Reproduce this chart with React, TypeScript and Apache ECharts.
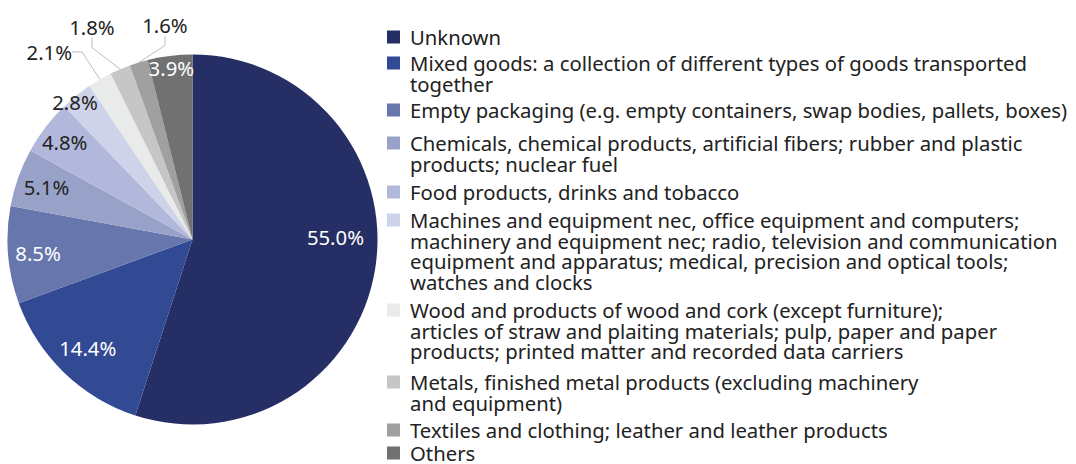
import React, { useEffect, useRef } from "react";
import * as echarts from "echarts";

const categories = [
  "Unknown",
  "Mixed goods: a collection of different types of goods transported together",
  "Empty packaging (e.g. empty containers, swap bodies, pallets, boxes)",
  "Chemicals, chemical products, artificial fibers; rubber and plastic products; nuclear fuel",
  "Food products, drinks and tobacco",
  "Machines and equipment nec, office equipment and computers; machinery and equipment nec; radio, television and communication equipment and apparatus; medical, precision and optical tools; watches and clocks",
  "Wood and products of wood and cork (except furniture); articles of straw and plaiting materials; pulp, paper and paper products; printed matter and recorded data carriers",
  "Metals, finished metal products (excluding machinery and equipment)",
  "Textiles and clothing; leather and leather products",
  "Others",
];

// legend text as wrapped in the reference
const legendLines: string[][] = [
  ["Unknown"],
  ["Mixed goods: a collection of different types of goods transported", "together"],
  ["Empty packaging (e.g. empty containers, swap bodies, pallets, boxes)"],
  ["Chemicals, chemical products, artificial fibers; rubber and plastic", "products; nuclear fuel"],
  ["Food products, drinks and tobacco"],
  [
    "Machines and equipment nec, office equipment and computers;",
    "machinery and equipment nec; radio, television and communication",
    "equipment and apparatus; medical, precision and optical tools;",
    "watches and clocks",
  ],
  [
    "Wood and products of wood and cork (except furniture);",
    "articles of straw and plaiting materials; pulp, paper and paper",
    "products; printed matter and recorded data carriers",
  ],
  ["Metals, finished metal products (excluding machinery", "and equipment)"],
  ["Textiles and clothing; leather and leather products"],
  ["Others"],
];

const shares = [55.0, 14.4, 8.5, 5.1, 4.8, 2.8, 2.1, 1.8, 1.6, 3.9];

// ---- styling / layout (not data) ----
const colors = [
  "#262f65",
  "#324a93",
  "#6776ad",
  "#98a2c8",
  "#b2b8db",
  "#cfd3e9",
  "#e9ebea",
  "#c6c6c6",
  "#a0a0a0",
  "#717171",
];
const labelColors = ["#fff", "#fff", "#fff", "#222", "#222", "#222", "#222", "#222", "#222", "#fff"];
const labelOutside = [false, false, false, false, false, false, true, true, true, false];
// label distance from centre (px) and angular shift (deg) per slice
const labelDist = [143, 151, 155, 155, 161, 181, 236, 235, 216, 173];
const labelShift = [-10.2, 0, 0, 0, 0, -1.6, -7.3, -2.3, 9.6, 0];
const legendFirstLineY = [37, 63, 110, 143, 192, 220, 310, 382, 430, 453];

const CX = 192.5;
const CY = 239.5;
const R = 185;
const LH = 20.5;
const FONT = "Noto Sans";
const FS = 20.3;
const MARK = 13;

export default function App() {
  const ref = useRef<HTMLDivElement>(null);

  useEffect(() => {
    if (!ref.current) return;
    const chart = echarts.init(ref.current, undefined, { renderer: "svg" });

    const total = shares.reduce((a, b) => a + b, 0);
    const midAngles: number[] = [];
    let acc = 0;
    shares.forEach((v) => {
      const a = (v / total) * 360;
      midAngles.push(acc + a / 2);
      acc += a;
    });

    const legends = categories.map((name, i) => {
      const n = legendLines[i].length;
      const H = n * LH;
      const t = LH / 2 - MARK / 2;
      // square aligned with the first text line inside a box as tall as the text block
      const icon =
        `path://M0,0L0,0ZM0,${t}L${MARK},${t}L${MARK},${t + MARK}L0,${t + MARK}Z` +
        `M${MARK},${H}L${MARK},${H}Z`;
      const text = legendLines[i].join("\n");
      return {
        data: [name],
        orient: "vertical",
        left: 387,
        top: legendFirstLineY[i] - LH / 2,
        padding: 0,
        itemWidth: MARK,
        itemHeight: H,
        icon,
        itemStyle: { borderWidth: 0 },
        selectedMode: false,
        formatter: () => text,
        textStyle: {
          fontFamily: FONT,
          fontSize: FS,
          lineHeight: LH,
          color: "#222",
          padding: [0, 0, 0, 5],
        },
      };
    });

    chart.setOption({
      animation: false,
      color: colors,
      legend: legends,
      series: [
        {
          type: "pie",
          center: [CX, CY],
          radius: R,
          startAngle: 90,
          clockwise: true,
          avoidLabelOverlap: false,
          data: categories.map((name, i) => ({
            name,
            value: shares[i],
            label: {
              position: labelOutside[i] ? "outside" : "inside",
              color: labelColors[i],
            },
            labelLine: { show: labelOutside[i] },
          })),
          label: {
            formatter: (p: any) => p.value.toFixed(1) + "%",
            fontFamily: FONT,
            fontSize: FS,
            lineHeight: LH,
          },
          labelLine: {
            length: 22,
            length2: 10,
            lineStyle: { color: "#bdbdbd", width: 1 },
          },
          labelLayout: (p: any) => {
            const i = p.dataIndex;
            const ang = ((midAngles[i] + labelShift[i]) * Math.PI) / 180;
            return {
              x: CX + labelDist[i] * Math.sin(ang),
              y: CY - labelDist[i] * Math.cos(ang),
              align: "center",
              verticalAlign: "middle",
            };
          },
          emphasis: { disabled: true },
        },
      ],
    });

    return () => chart.dispose();
  }, []);

  return (
    <div
      ref={ref}
      style={{ position: "fixed", left: 0, top: 0, width: 1076, height: 464, background: "#fff" }}
    />
  );
}
